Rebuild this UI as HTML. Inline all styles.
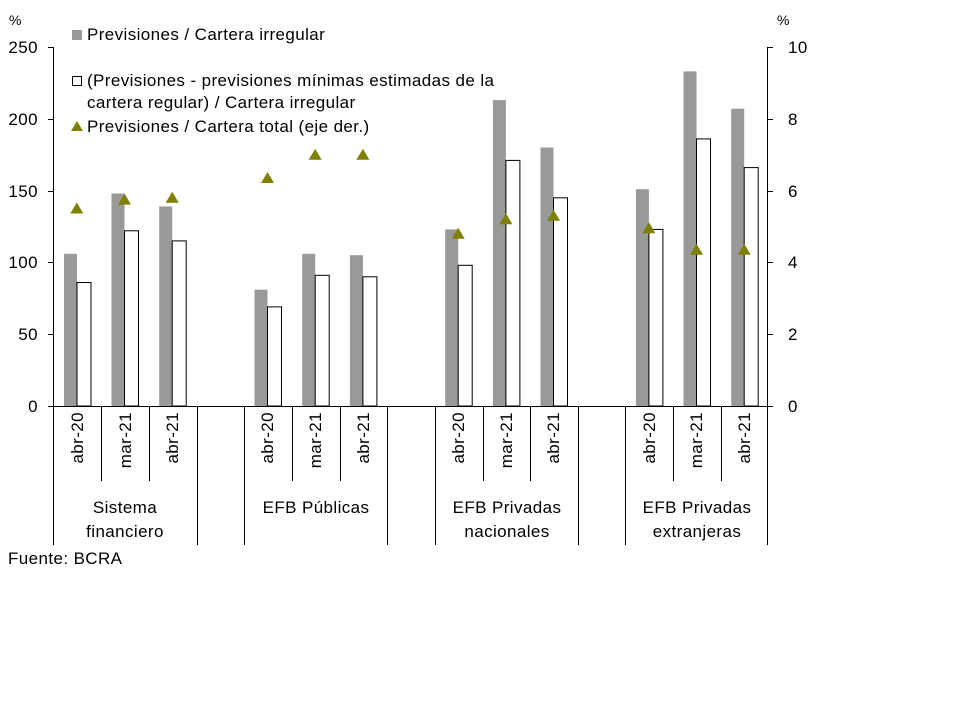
<!DOCTYPE html><html><head><meta charset="utf-8"><style>body{margin:0;background:#fff}svg{display:block}text{font-family:"Liberation Sans",sans-serif;fill:#000;letter-spacing:0.4px}</style></head><body>
<svg width="960" height="720" viewBox="0 0 960 720">
<g fill="#999">
<rect x="64" y="253.8" width="13" height="152.2"/><rect x="111.5" y="193.5" width="13" height="212.5"/><rect x="159.2" y="206.4" width="13" height="199.6"/>
<rect x="254.5" y="289.7" width="13" height="116.3"/><rect x="302.2" y="253.8" width="13" height="152.2"/><rect x="349.9" y="255.2" width="13" height="150.8"/>
<rect x="445.2" y="229.4" width="13" height="176.6"/><rect x="492.9" y="100.1" width="13" height="305.9"/><rect x="540.5" y="147.5" width="13" height="258.5"/>
<rect x="635.9" y="189.2" width="13" height="216.8"/><rect x="683.5" y="71.4" width="13" height="334.6"/><rect x="731.2" y="108.7" width="13" height="297.3"/>
</g>
<g fill="#fff" stroke="#000" stroke-width="1">
<rect x="77" y="282.5" width="14" height="123.5"/><rect x="124.5" y="230.8" width="14" height="175.2"/><rect x="172.2" y="240.9" width="14" height="165.1"/>
<rect x="267.5" y="306.9" width="14" height="99.1"/><rect x="315.2" y="275.3" width="14" height="130.7"/><rect x="362.9" y="276.8" width="14" height="129.2"/>
<rect x="458.2" y="265.3" width="14" height="140.7"/><rect x="505.9" y="160.4" width="14" height="245.6"/><rect x="553.5" y="197.8" width="14" height="208.2"/>
<rect x="648.9" y="229.4" width="14" height="176.6"/><rect x="696.5" y="138.9" width="14" height="267.1"/><rect x="744.2" y="167.6" width="14" height="238.4"/>
</g>
<g fill="#7f7f00">
<path d="M76.8 202.5l6.5 11h-13z"/><path d="M124.5 193.6l6.5 11h-13z"/><path d="M172.2 191.8l6.5 11h-13z"/>
<path d="M267.5 172l6.5 11h-13z"/><path d="M315.2 148.7l6.5 11h-13z"/><path d="M362.9 148.7l6.5 11h-13z"/>
<path d="M458.2 227.7l6.5 11h-13z"/><path d="M505.9 213.3l6.5 11h-13z"/><path d="M553.5 209.7l6.5 11h-13z"/>
<path d="M648.9 222.3l6.5 11h-13z"/><path d="M696.5 243.8l6.5 11h-13z"/><path d="M744.2 243.8l6.5 11h-13z"/>
</g>
<g stroke="#000" stroke-width="1" fill="none">
<path d="M53.5 47v359M48 47.5h6M48 119.5h6M48 191.5h6M48 262.5h6M48 334.5h6M48 406.5h6"/>
<path d="M767.5 47v359M767 47.5h6M767 119.5h6M767 191.5h6M767 262.5h6M767 334.5h6M767 406.5h6"/>
<path d="M53 406.5h715"/>
<path d="M53.5 406v139M197.5 406v139M244.5 406v139M387.5 406v139M435.5 406v139M578.5 406v139M625.5 406v139M767.5 406v139"/>
<path d="M101.5 406v75M149.5 406v75M292.5 406v75M340.5 406v75M483.5 406v75M530.5 406v75M673.5 406v75M721.5 406v75"/>
</g>
<g font-size="17" text-anchor="end">
<text x="38" y="53">250</text><text x="38" y="125">200</text><text x="38" y="197">150</text><text x="38" y="268">100</text><text x="38" y="340">50</text><text x="38" y="412">0</text>
</g>
<g font-size="17" text-anchor="start">
<text x="788" y="53">10</text><text x="788" y="125">8</text><text x="788" y="197">6</text><text x="788" y="268">4</text><text x="788" y="340">2</text><text x="788" y="412">0</text>
</g>
<text x="9" y="25" font-size="14">%</text><text x="777" y="25" font-size="14">%</text>
<g font-size="17" text-anchor="end">
<text transform="translate(83,412) rotate(-90)">abr-20</text><text transform="translate(131,412) rotate(-90)">mar-21</text><text transform="translate(178,412) rotate(-90)">abr-21</text>
<text transform="translate(273,412) rotate(-90)">abr-20</text><text transform="translate(321,412) rotate(-90)">mar-21</text><text transform="translate(369,412) rotate(-90)">abr-21</text>
<text transform="translate(464,412) rotate(-90)">abr-20</text><text transform="translate(512,412) rotate(-90)">mar-21</text><text transform="translate(559,412) rotate(-90)">abr-21</text>
<text transform="translate(655,412) rotate(-90)">abr-20</text><text transform="translate(702,412) rotate(-90)">mar-21</text><text transform="translate(750,412) rotate(-90)">abr-21</text>
</g>
<g font-size="17" text-anchor="middle">
<text x="125" y="513">Sistema</text><text x="125" y="537">financiero</text>
<text x="316" y="513">EFB Públicas</text>
<text x="507" y="513">EFB Privadas</text><text x="507" y="537">nacionales</text>
<text x="697" y="513">EFB Privadas</text><text x="697" y="537">extranjeras</text>
</g>
<text x="8" y="564" font-size="17">Fuente: BCRA</text>
<g font-size="17">
<rect x="72" y="30" width="10" height="10" fill="#999"/><text x="87" y="40">Previsiones / Cartera irregular</text>
<rect x="72.5" y="76.5" width="9" height="9" fill="#fff" stroke="#000"/><text x="87" y="86">(Previsiones - previsiones mínimas estimadas de la</text><text x="87" y="108">cartera regular) / Cartera irregular</text>
<path d="M77 121l6 10h-12z" fill="#7f7f00"/><text x="87" y="132">Previsiones / Cartera total (eje der.)</text>
</g>
</svg></body></html>
